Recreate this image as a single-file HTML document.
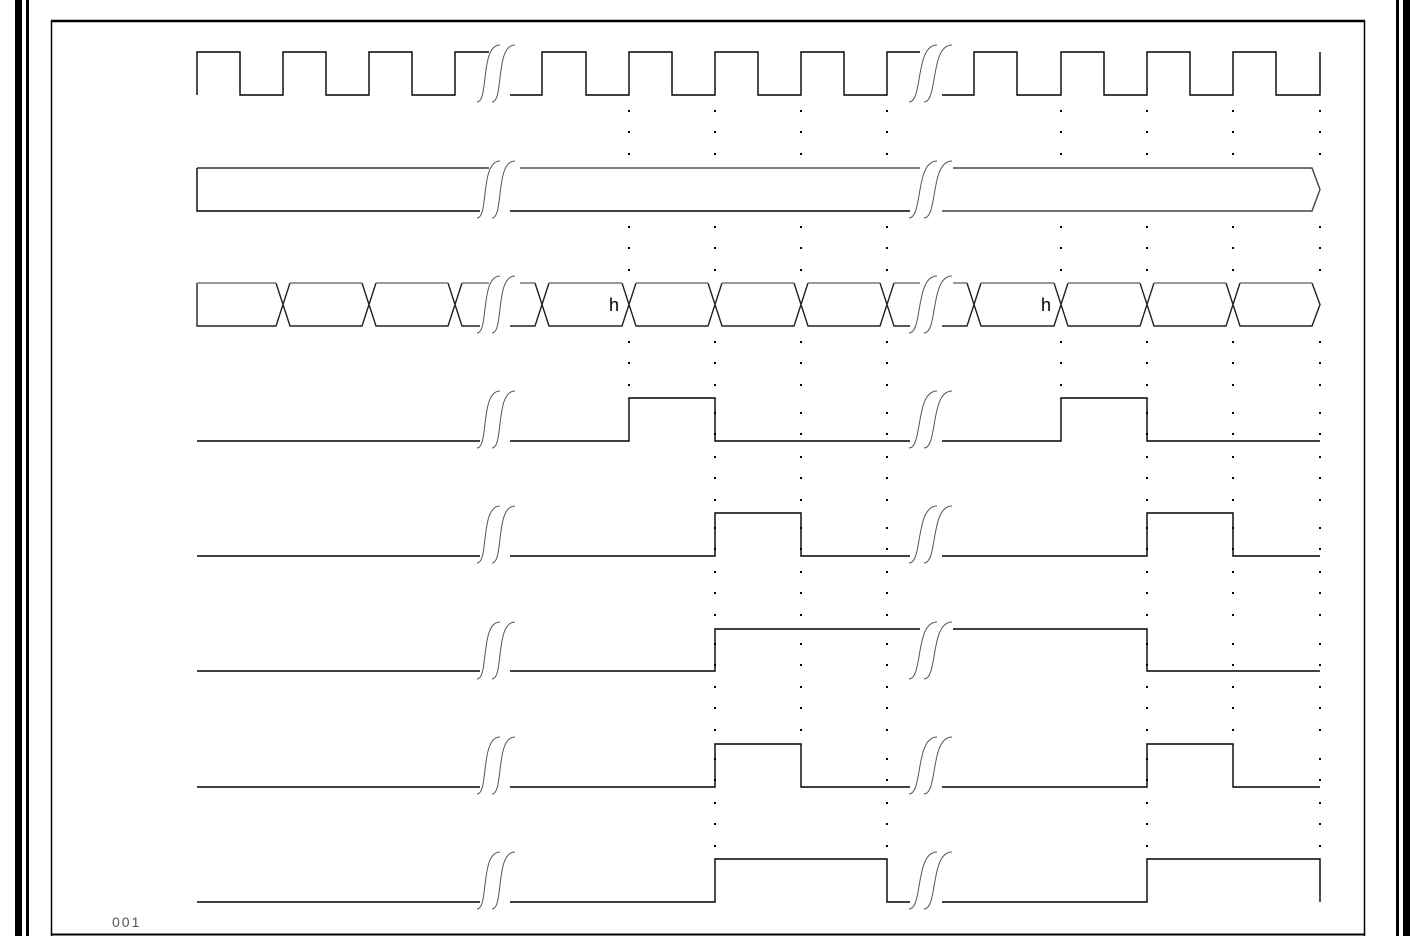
<!DOCTYPE html>
<html><head><meta charset="utf-8"><style>
html,body{margin:0;padding:0;background:#fff;width:1411px;height:936px;overflow:hidden}
</style></head><body>
<svg width="1411" height="936" viewBox="0 0 1411 936" xmlns="http://www.w3.org/2000/svg">
<defs>
<path id="dA" d="M0 110v2M0 131v2M0 153v2M0 226v2M0 247v2M0 269v2M0 341v2M0 362v2M0 384v2" stroke="#000" stroke-width="2" fill="none"/>
<path id="dB" d="M0 412v2M0 433v2M0 456v2M0 477v2M0 499v2M0 527v2M0 548v2M0 571v2M0 592v2M0 614v2M0 643v2M0 664v2M0 686v2M0 707v2M0 729v2" stroke="#000" stroke-width="2" fill="none"/>
<path id="dC" d="M0 758v2M0 779v2M0 802v2M0 823v2M0 845v2" stroke="#000" stroke-width="2" fill="none"/>
<path id="brk" d="M0 50C12 50 3 -7 23 -7M15 50C27 50 18 -7 38 -7" stroke="#555" stroke-width="1" fill="none"/>
<path id="brk2" d="M0 50C14 50 6 -7 28 -7M15 50C29 50 21 -7 43 -7" stroke="#555" stroke-width="1" fill="none"/>
</defs>
<rect x="15" y="0" width="7" height="936" fill="#000"/>
<rect x="26" y="0" width="3" height="936" fill="#000"/>
<rect x="1396" y="0" width="3" height="936" fill="#000"/>
<rect x="1403" y="0" width="7" height="936" fill="#000"/>
<path d="M51.5 936V21H1364.5V936" stroke="#000" stroke-width="1.5" fill="none"/>
<line x1="51" y1="21" x2="1365" y2="21" stroke="#000" stroke-width="2.5"/>
<line x1="51" y1="934.5" x2="1365" y2="934.5" stroke="#000" stroke-width="2"/>
<text x="112" y="927" font-family="Liberation Sans, sans-serif" font-size="14" fill="#555" letter-spacing="2">001</text>

<g>
<use href="#dA" x="629"/><use href="#dA" x="1061"/>
<use href="#dA" x="801"/><use href="#dB" x="801"/>
<use href="#dA" x="1233"/><use href="#dB" x="1233"/>
<use href="#dA" x="715"/><use href="#dB" x="715"/><use href="#dC" x="715"/>
<use href="#dA" x="887"/><use href="#dB" x="887"/><use href="#dC" x="887"/>
<use href="#dA" x="1147"/><use href="#dB" x="1147"/><use href="#dC" x="1147"/>
<use href="#dA" x="1320"/><use href="#dB" x="1320"/><use href="#dC" x="1320"/>
</g>

<g stroke="#000" stroke-width="1.4" fill="none">
<path d="M197 95V52H240V95H283V52H326V95H369V52H412V95H455V52H489"/>
<path d="M510 95H542V52H586V95H629V52H672V95H715V52H758V95H801V52H844V95H887V52H920"/>
<path d="M942 95H974V52H1017V95H1061V52H1104V95H1147V52H1190V95H1233V52H1276V95H1320V52"/>
<path d="M197 168V211H480"/><path d="M197 168H489" stroke="#333"/>
<path d="M510 211H910"/><path d="M520 168H920" stroke="#555"/>
<path d="M942 211H1312L1320 189.5L1312 168H953" stroke="#444"/>
<path d="M197 283V326H276L290 283M276 283L290 326H362L376 283M362 283L376 326H448L462 283M448 283L462 326H480" stroke="#222"/>
<path d="M197 283H276M290 283H362M376 283H448M462 283H489" stroke="#777"/>
<path d="M510 326H535L549 283M535 283L549 326H622L636 283M622 283L636 326H708L722 283M708 283L722 326H794L808 283M794 283L808 326H880L894 283M880 283L894 326H910" stroke="#222"/>
<path d="M520 283H535M549 283H622M636 283H708M722 283H794M808 283H880M894 283H920" stroke="#777"/>
<path d="M942 326H967L981 283M967 283L981 326H1054L1068 283M1054 283L1068 326H1140L1154 283M1140 283L1154 326H1226L1240 283M1226 283L1240 326H1312L1320 304.5L1312 283" stroke="#222"/>
<path d="M953 283H967M981 283H1054M1068 283H1140M1154 283H1226M1240 283H1312" stroke="#777"/>
<path d="M197 441H480"/><path d="M510 441H629V398H715V441H910"/><path d="M942 441H1061V398H1147V441H1320"/>
<path d="M197 556H480"/><path d="M510 556H715V513H801V556H910"/><path d="M942 556H1147V513H1233V556H1320"/>
<path d="M197 671H480"/><path d="M510 671H715V629H920"/><path d="M953 629H1147V671H1320"/>
<path d="M197 787H480"/><path d="M510 787H715V744H801V787H910"/><path d="M942 787H1147V744H1233V787H1320"/>
<path d="M197 902H480"/><path d="M510 902H715V859H887V902H910"/><path d="M942 902H1147V859H1320V902"/>
</g>
<text x="609" y="311" font-family="Liberation Sans, sans-serif" font-size="18" fill="#000">h</text>
<text x="1041" y="311" font-family="Liberation Sans, sans-serif" font-size="18" fill="#000">h</text>

<g>
<use href="#brk" x="477" y="52"/><use href="#brk" x="477" y="168"/><use href="#brk" x="477" y="283"/><use href="#brk" x="477" y="398"/>
<use href="#brk" x="477" y="513"/><use href="#brk" x="477" y="629"/><use href="#brk" x="477" y="744"/><use href="#brk" x="477" y="859"/>
<use href="#brk2" x="909" y="52"/><use href="#brk2" x="909" y="168"/><use href="#brk2" x="909" y="283"/><use href="#brk2" x="909" y="398"/>
<use href="#brk2" x="909" y="513"/><use href="#brk2" x="909" y="629"/><use href="#brk2" x="909" y="744"/><use href="#brk2" x="909" y="859"/>
</g>
</svg>
</body></html>
